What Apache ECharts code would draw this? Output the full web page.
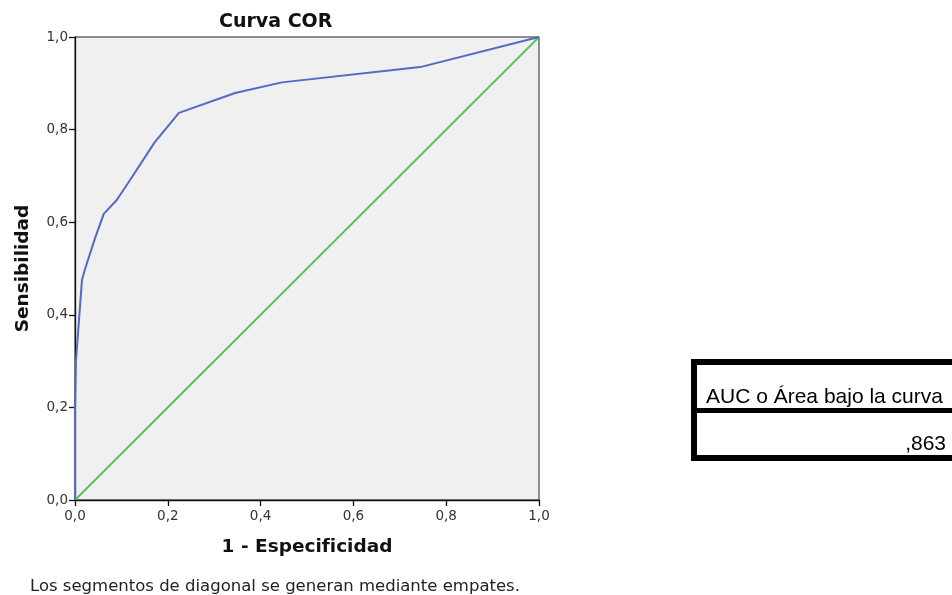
<!DOCTYPE html>
<html lang="es">
<head>
    <meta charset="UTF-8">
    <title>Curva COR</title>
    <script src="https://cdn.jsdelivr.net/npm/echarts@6/dist/echarts.min.js"></script>
    <style>
        html, body { margin: 0; padding: 0; background: #fff; }
        #main { width: 952px; height: 595px; }
    </style>
</head>
<body>
<div id="main"></div>
<script>
    // curva ROC (1 - especificidad, sensibilidad)
    var fpr = [0, 0, 0.002, 0.015, 0.022, 0.043, 0.062, 0.09, 0.118, 0.172, 0.224, 0.345, 0.446, 0.744, 1];
    var tpr = [0, 0.2, 0.30, 0.475, 0.50, 0.565, 0.618, 0.648, 0.69, 0.773, 0.836, 0.879, 0.902, 0.935, 1];
    var diagX = [0, 1];
    var diagY = [0, 1];
    var aucLabel = 'AUC o Área bajo la curva';
    var aucValue = ',863';

    function pares(xs, ys) {
        return xs.map(function (x, i) { return [x, ys[i]]; });
    }
    function coma(v) { return v.toFixed(1).replace('.', ','); }

    var chart = echarts.init(document.getElementById('main'));
    var font = 'DejaVu Sans';

    chart.setOption({
        animation: false,
        title: {
            text: 'Curva COR',
            left: 214,
            top: 8,
            textStyle: { fontFamily: font, fontSize: 19, fontWeight: 'bold', color: '#111' }
        },
        grid: {
            left: 75, right: 413, top: 37, bottom: 95,
            show: true, backgroundColor: '#f0f0f0', borderColor: '#222', borderWidth: 1
        },
        xAxis: {
            type: 'value', min: 0, max: 1, interval: 0.2,
            name: '1 - Especificidad', nameLocation: 'middle', nameGap: 38,
            nameTextStyle: { fontFamily: font, fontSize: 18.5, fontWeight: 'bold', color: '#111' },
            axisLine: { lineStyle: { color: '#111', width: 1.3 } },
            axisTick: { length: 6, lineStyle: { color: '#111', width: 1.3 } },
            axisLabel: { fontFamily: font, fontSize: 13.5, color: '#333', margin: 9, formatter: coma },
            splitLine: { show: false }
        },
        yAxis: {
            type: 'value', min: 0, max: 1, interval: 0.2,
            name: 'Sensibilidad', nameLocation: 'middle', nameGap: 42,
            nameTextStyle: { fontFamily: font, fontSize: 18.5, fontWeight: 'bold', color: '#111' },
            axisLine: { lineStyle: { color: '#111', width: 1.3 } },
            axisTick: { length: 6, lineStyle: { color: '#111', width: 1.3 } },
            axisLabel: { fontFamily: font, fontSize: 13.5, color: '#333', margin: 7, formatter: coma },
            splitLine: { show: false }
        },
        series: [
            {
                type: 'line', data: pares(diagX, diagY), showSymbol: false,
                lineStyle: { color: '#52c15a', width: 1.8 }
            },
            {
                type: 'line', data: pares(fpr, tpr), showSymbol: false,
                lineStyle: { color: '#5468c4', width: 2 }
            }
        ],
        graphic: [
            {
                type: 'text', left: 30, top: 578,
                style: { text: 'Los segmentos de diagonal se generan mediante empates.',
                    font: '16.5px "DejaVu Sans"', fill: '#222' }
            },
            {
                type: 'rect', shape: { x: 694, y: 362, width: 270, height: 96 },
                style: { fill: '#fff', stroke: '#000', lineWidth: 6 }
            },
            {
                type: 'line', shape: { x1: 694, y1: 410.5, x2: 960, y2: 410.5 },
                style: { stroke: '#000', lineWidth: 5 }
            },
            {
                type: 'text', x: 706, y: 397,
                style: { text: aucLabel, font: '21px "Liberation Sans"', fill: '#000', verticalAlign: 'middle' }
            },
            {
                type: 'text', x: 946, y: 444,
                style: { text: aucValue, font: '21px "Liberation Sans"', fill: '#000', align: 'right', verticalAlign: 'middle' }
            }
        ]
    });
</script>
</body>
</html>
